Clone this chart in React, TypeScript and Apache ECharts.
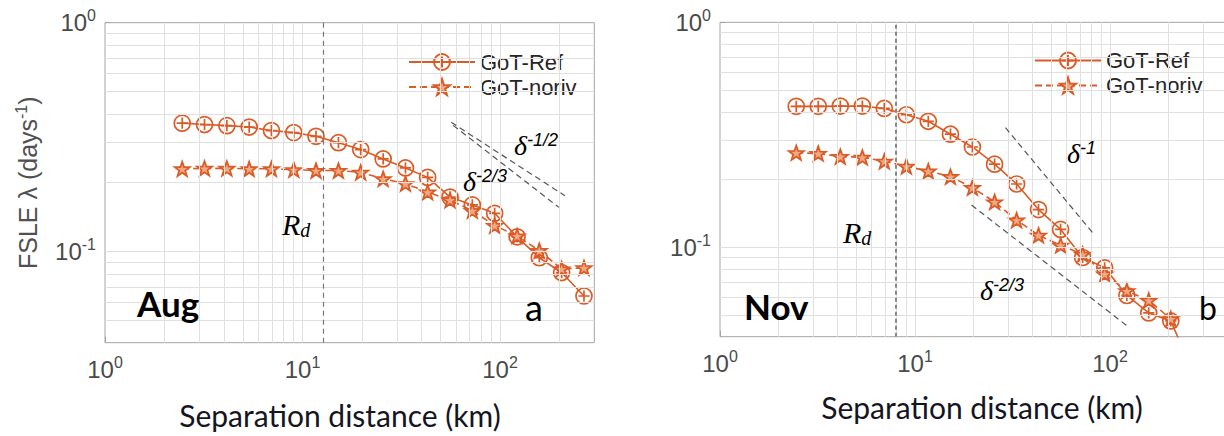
import React, { useEffect, useRef } from 'react';
import * as echarts from 'echarts';

// ---- data ----
const distanceKm = [2.46, 3.19, 4.14, 5.37, 6.96, 9.03, 11.7, 15.2, 19.7, 25.6, 33.2, 43.0, 55.8, 72.4, 93.9, 122, 158, 205, 266];
const augRef = [0.364, 0.359, 0.355, 0.350, 0.338, 0.331, 0.319, 0.299, 0.279, 0.254, 0.232, 0.211, 0.173, 0.160, 0.147, 0.116, 0.094, 0.081, 0.064];
const augNoriv = [0.230, 0.231, 0.231, 0.230, 0.230, 0.228, 0.226, 0.226, 0.222, 0.208, 0.198, 0.182, 0.168, 0.151, 0.130, 0.117, 0.101, 0.084, 0.085];
const novRef = [0.423, 0.423, 0.424, 0.424, 0.414, 0.388, 0.363, 0.318, 0.279, 0.234, 0.191, 0.147, 0.120, 0.090, 0.081, 0.061, 0.051, 0.047, 0.028];
const novNoriv = [0.263, 0.261, 0.253, 0.251, 0.241, 0.229, 0.218, 0.206, 0.184, 0.159, 0.132, 0.113, 0.102, 0.093, 0.076, 0.064, 0.058, 0.048];
const seriesNames = ['GoT-Ref', 'GoT-noriv'];
const augRd = 12.8;
const novRd = 8.0;
const augSlopeHalf = [[56.6, 0.367], [213, 0.1755]];
const augSlopeTwoThirds = [[57.9, 0.356], [198.6, 0.156]];
const novSlopeOne = [[29.1, 0.34], [81.9, 0.1153]];
const novSlopeTwoThirds = [[19.5, 0.154], [126, 0.0438]];
const xGridKm = [2, 3, 4, 5, 6, 7, 8, 9, 10, 20, 30, 40, 50, 60, 70, 80, 90, 100, 200, 300, 400];
const yGridValues = [0.05, 0.06, 0.07, 0.08, 0.09, 0.1, 0.2, 0.3, 0.4, 0.5, 0.6, 0.7, 0.8, 0.9];
const xRange = [1, 300];
const xRangeNov = [1, 500];
const yRange = [0.04, 1];

const ORANGE = '#db5b27';
const GRID_GRAY = '#e0e0e0';
const AXIS_GRAY = '#a4a4a4';
const circlePath = 'path://M10,0A10,10,0,1,1,-10,0A10,10,0,1,1,10,0ZM0,-7L0,7M-7,0L7,0';
const starPath = 'path://M0,-10L2.35,-3.24L9.51,-3.09L3.8,1.24L5.88,8.09L0,4L-5.88,8.09L-3.8,1.24L-9.51,-3.09L-2.35,-3.24Z';

const pairs = (ys: number[]) => ys.map((y, i) => [distanceKm[i], y]);

const tickRich = {
  b: { fontSize: 24, color: '#4a4a4a', fontFamily: 'Liberation Sans', lineHeight: 30 },
  s: { fontSize: 16, color: '#4a4a4a', fontFamily: 'Liberation Sans', verticalAlign: 'top', lineHeight: 15 },
};
const powFormatter = (v: number) => {
  const e = Math.log10(v);
  const r = Math.round(e);
  if (Math.abs(e - r) > 1e-6) return '';
  return `{b|10}{s|${r}}`;
};

function xAxisFor(idx: number, range: number[]) {
  return {
    type: 'log', logBase: 10, gridIndex: idx, min: range[0], max: range[1],
    axisLine: { show: false },
    axisTick: { show: true, inside: true, length: 6, lineStyle: { color: AXIS_GRAY } },
    splitLine: { show: false },
    axisLabel: { formatter: powFormatter, rich: tickRich, margin: 12, showMaxLabel: false },
  };
}
function yAxisFor(idx: number, withName: boolean) {
  return {
    type: 'log', logBase: 10, gridIndex: idx, min: yRange[0], max: yRange[1],
    axisLine: { show: false },
    axisTick: { show: true, inside: true, length: 6, lineStyle: { color: AXIS_GRAY } },
    splitLine: { show: false },
    axisLabel: { formatter: powFormatter, rich: tickRich, margin: 9, showMinLabel: false },
    name: withName ? '{t|FSLE λ (days}{s|-1}{t|)}' : '',
    nameLocation: 'middle', nameRotate: 90, nameGap: 62,
    nameTextStyle: {
      rich: {
        t: { fontSize: 25, color: '#505050', fontFamily: 'Liberation Sans', lineHeight: 30 },
        s: { fontSize: 16, color: '#505050', fontFamily: 'Liberation Sans', verticalAlign: 'top', lineHeight: 15 },
      },
    },
  };
}
function gridLinesSeries(idx: number, xMax: number) {
  return {
    type: 'line', name: 'grid' + idx, xAxisIndex: idx, yAxisIndex: idx, z: 1, silent: true,
    data: [], symbol: 'none',
    markLine: {
      silent: true, symbol: ['none', 'none'], label: { show: false },
      lineStyle: { color: GRID_GRAY, width: 1, type: 'solid' },
      data: [
        ...xGridKm.filter((v) => v < xMax).map((v) => ({ xAxis: v })),
        ...yGridValues.map((v) => ({ yAxis: v })),
      ],
    },
  };
}
function annotSeries(idx: number, rd: number, slopes: number[][][], rdStyle: any) {
  return {
    type: 'line', name: 'annot' + idx, xAxisIndex: idx, yAxisIndex: idx, z: 2, silent: true,
    data: [], symbol: 'none',
    markLine: {
      silent: true, symbol: ['none', 'none'], label: { show: false },
      data: [
        { xAxis: rd, lineStyle: rdStyle },
        ...slopes.map((s) => [
          { coord: s[0], lineStyle: { color: '#555', width: 1.2, type: [6, 4] } },
          { coord: s[1] },
        ]),
      ],
    },
  };
}
function dataSeries(idx: number, name: string, ys: number[], isRef: boolean) {
  return {
    type: 'line', name, xAxisIndex: idx, yAxisIndex: idx, z: 3,
    data: pairs(ys), showSymbol: true,
    symbol: isRef ? circlePath : starPath, symbolSize: isRef ? 16 : 15, symbolKeepAspect: true,
    lineStyle: { color: ORANGE, width: 1.6, type: isRef ? 'solid' : [7, 4] },
    itemStyle: isRef
      ? { color: 'rgba(255,255,255,0)', borderColor: ORANGE, borderWidth: 1.7 }
      : { color: '#f1a983', borderColor: ORANGE, borderWidth: 1.8 },
  };
}

const deltaRich = {
  d: { fontSize: 28, fontStyle: 'italic', fontFamily: 'Liberation Serif', color: '#1f2a40' },
  s: { fontSize: 18, fontStyle: 'italic', fontFamily: 'Liberation Sans', color: '#1f2a40', verticalAlign: 'top', lineHeight: 14 },
};
const rdRich = {
  r: { fontSize: 30, fontStyle: 'italic', fontFamily: 'Liberation Serif', color: '#1a1a1a', lineHeight: 32 },
  d: { fontSize: 20, fontStyle: 'italic', fontFamily: 'Liberation Serif', color: '#1a1a1a', verticalAlign: 'bottom', lineHeight: 24 },
};

function txt(x: number, y: number, text: string, extra: any) {
  return { type: 'text', x, y, silent: true, z: 10, style: { text, align: 'left', verticalAlign: 'middle', ...extra } };
}

const legendBase = {
  orient: 'vertical', itemWidth: 66, itemHeight: 20, itemGap: 3,
  data: seriesNames, selectedMode: false,
  textStyle: { fontSize: 22, color: '#262626', fontFamily: 'Liberation Sans' },
};

export default function App() {
  const ref = useRef<HTMLDivElement>(null);
  useEffect(() => {
    if (!ref.current) return;
    const chart = echarts.init(ref.current, undefined, { renderer: 'svg' });
    const option: any = {
      animation: false,
      textStyle: { fontFamily: 'Liberation Sans' },
      grid: [
        { left: 105, top: 22.7, width: 489.3, height: 320, show: true, borderColor: AXIS_GRAY, borderWidth: 1, containLabel: false },
        { left: 720, top: 22.3, width: 526.3, height: 314.4, show: true, borderColor: AXIS_GRAY, borderWidth: 1, containLabel: false },
      ],
      xAxis: [xAxisFor(0, xRange), xAxisFor(1, xRangeNov)],
      yAxis: [yAxisFor(0, true), yAxisFor(1, false)],
      legend: [
        { ...legendBase, left: 403, top: 46 },
        { ...legendBase, left: 1029, top: 44.5 },
      ],
      series: [
        gridLinesSeries(0, xRange[1]),
        gridLinesSeries(1, xRangeNov[1]),
        annotSeries(0, augRd, [augSlopeHalf, augSlopeTwoThirds], { color: '#777', width: 1.2, type: [5, 4] }),
        annotSeries(1, novRd, [novSlopeOne, novSlopeTwoThirds], { color: '#888', width: 2, type: [4, 3] }),
        dataSeries(0, seriesNames[0], augRef, true),
        dataSeries(0, seriesNames[1], augNoriv, false),
        dataSeries(1, seriesNames[0], novRef, true),
        dataSeries(1, seriesNames[1], novNoriv, false),
      ],
      graphic: [
        txt(340, 415, 'Separation distance (km)', { align: 'center', fontSize: 30, fontFamily: 'Lato', fill: '#15151f' }),
        txt(982, 407, 'Separation distance (km)', { align: 'center', fontSize: 30, fontFamily: 'Lato', fill: '#15151f' }),
        txt(137, 303, 'Aug', { fontSize: 35, fontWeight: 'bold', fontFamily: 'Lato', fill: '#000' }),
        txt(744, 306, 'Nov', { fontSize: 35, fontWeight: 'bold', fontFamily: 'Lato', fill: '#000' }),
        txt(525, 307, 'a', { fontSize: 36, fontFamily: 'Lato', fill: '#000' }),
        txt(1199, 307, 'b', { fontSize: 32, fontFamily: 'Lato', fill: '#000' }),
        txt(282, 224, '{r|R}{d|d}', { rich: rdRich }),
        txt(843, 232, '{r|R}{d|d}', { rich: rdRich }),
        txt(514, 145, '{d|δ}{s|-1/2}', { rich: deltaRich }),
        txt(463, 181, '{d|δ}{s|-2/3}', { rich: deltaRich }),
        txt(1067, 153, '{d|δ}{s|-1}', { rich: deltaRich }),
        txt(980, 290, '{d|δ}{s|-2/3}', { rich: deltaRich }),
      ],
    };
    chart.setOption(option);
    return () => chart.dispose();
  }, []);
  return (
    <div style={{ position: 'fixed', left: 0, top: 0, width: 1224, height: 436, overflow: 'hidden', background: '#fff' }}>
      <div ref={ref} style={{ width: 1320, height: 436 }} />
    </div>
  );
}
